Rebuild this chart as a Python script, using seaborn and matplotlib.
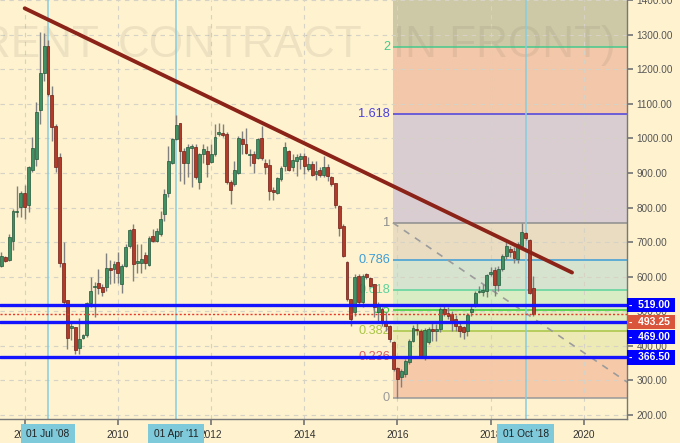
import numpy as np
import pandas as pd
import seaborn as sns
import matplotlib.pyplot as plt
from matplotlib import transforms

# Monthly candles, Jul 2007 .. Dec 2018
first_month = '2007-07'
opens = [632, 656, 647, 702, 786, 801,
         842, 807, 909, 940, 1081, 1190, 1267, 1125, 1036, 947, 640, 533,
         452, 454, 393, 423, 430, 524, 569, 582, 570, 570, 625, 622,
         643, 580, 631, 689, 738, 641, 641, 662, 633, 718, 702, 723,
         782, 843, 928, 999, 1043, 964, 928, 973, 975, 874, 954, 964,
         933, 954, 1012, 1016, 1012, 874, 868, 899, 998, 983, 952, 954,
         942, 1000, 930, 923, 851, 841, 882, 919, 962, 916, 935, 940,
         949, 911, 927, 897, 909, 895, 918, 887, 870, 803, 747, 643,
         535, 497, 603, 526, 607, 595, 578, 497, 506, 473, 456, 410,
         335, 311, 319, 352, 415, 450, 444, 371, 412, 449, 444, 449,
         506, 494, 492, 477, 458, 455, 444, 497, 516, 556, 556, 559,
         608, 619, 577, 622, 660, 680, 675, 650, 689, 726, 706, 566]
highs = [671, 661, 724, 796, 863, 849,
         866, 921, 1005, 1104, 1307, 1306, 1285, 1152, 1041, 957, 700, 533,
         468, 454, 480, 435, 526, 600, 584, 623, 579, 668, 649, 646,
         670, 636, 694, 737, 752, 694, 694, 670, 718, 739, 742, 790,
         853, 978, 1002, 1068, 1045, 973, 983, 983, 983, 959, 983, 978,
         983, 1041, 1045, 1041, 1019, 879, 935, 1007, 1022, 1031, 969, 964,
         1002, 1036, 940, 940, 858, 887, 921, 988, 966, 954, 954, 959,
         959, 945, 935, 935, 916, 949, 925, 892, 872, 808, 752, 644,
         535, 607, 607, 607, 612, 598, 580, 526, 511, 497, 460, 415,
         338, 333, 362, 420, 460, 473, 449, 453, 455, 473, 463, 511,
         516, 511, 502, 490, 473, 458, 494, 516, 559, 574, 579, 609,
         629, 627, 632, 665, 700, 690, 685, 700, 756, 730, 709, 603]
lows = [627, 642, 645, 676, 772, 772,
        767, 786, 904, 919, 1041, 1166, 1122, 993, 902, 627, 521, 391,
        416, 377, 377, 420, 425, 512, 483, 550, 543, 560, 579, 583,
        583, 554, 627, 684, 588, 612, 612, 622, 631, 699, 699, 718,
        761, 829, 925, 994, 877, 867, 887, 858, 882, 853, 930, 887,
        930, 949, 1007, 1004, 869, 809, 863, 896, 954, 954, 921, 901,
        940, 937, 896, 821, 821, 839, 877, 906, 906, 906, 892, 911,
        897, 906, 892, 879, 889, 887, 877, 863, 800, 718, 656, 530,
        458, 487, 521, 511, 593, 569, 482, 468, 458, 444, 410, 328,
        249, 280, 309, 347, 410, 430, 367, 359, 405, 415, 415, 439,
        487, 477, 444, 444, 425, 420, 429, 485, 513, 552, 545, 542,
        603, 545, 559, 617, 650, 656, 640, 640, 685, 705, 550, 487]
closes = [661, 645, 716, 789, 790, 842,
          801, 918, 972, 1075, 1190, 1267, 1127, 1032, 918, 640, 528, 423,
          458, 389, 420, 430, 524, 559, 572, 567, 555, 625, 618, 636,
          612, 631, 687, 735, 638, 646, 651, 641, 711, 702, 732, 766,
          838, 935, 997, 1039, 962, 928, 975, 978, 887, 954, 968, 925,
          954, 1004, 1018, 1009, 874, 850, 908, 1001, 983, 959, 956, 930,
          998, 942, 916, 848, 845, 884, 913, 974, 908, 937, 945, 948,
          921, 925, 895, 906, 895, 918, 890, 868, 807, 742, 659, 535,
          477, 598, 526, 603, 598, 574, 511, 521, 468, 458, 420, 333,
          304, 326, 357, 415, 453, 447, 372, 446, 449, 444, 449, 506,
          492, 487, 473, 458, 444, 439, 490, 507, 552, 559, 561, 605,
          614, 577, 622, 660, 689, 670, 655, 695, 728, 711, 552, 493.25]

# fibonacci tool
fib_ratios = [0, 0.236, 0.382, 0.5, 0.618, 0.786, 1, 1.618, 2, 2.618]
fib_labels = ['0', '0.236', '0.382', '0.5', '0.618', '0.786', '1', '1.618', '2', '2.618']
fib_low, fib_high = 249, 756
fib_start = 2015.9
fib_line_colors = ['#9a9a9a', '#c9485a', '#a9c545', '#36cc36', '#5cd39c', '#3d9dd6',
                   '#8e8e8e', '#4a40dc', '#45c98c', '#cc4444']
fib_text_colors = ['#9a9a9a', '#e45c5c', '#a9c545', '#36cc36', '#5cd39c', '#3d9dd6',
                   '#8e8e8e', '#4a40dc', '#45c98c', '#cc4444']
fib_fills = ['#f6c9a9', '#eeeab5', '#e3ecbb', '#d8edc4', '#d6e3cf', '#e9dcc1',
             '#d9cdd2', '#f3c7a9', '#cdc9a6']

# support / resistance, last price
levels = [519.0, 469.0, 366.5]
last_price = 493.25

# trend line end points
trend_x = [2008.0, 2019.745]
trend_y = [1376, 612]
# dashed diagonal of the fib tool
diag_x = [2015.9, 2020.93]
diag_y = [756, 295]

# vertical date markers
marker_dates = ['2008-07-01', '2011-04-01', '2018-10-01']
marker_labels = ["01 Jul '08", "01 Apr '11", "01 Oct '18"]

bg = '#fef2cf'
sns.set_theme(style='white')
plt.rcParams['font.family'] = ['Liberation Sans', 'DejaVu Sans']

months = pd.date_range(first_month, periods=len(opens), freq='MS')
t = months.year + (months.month - 1) / 12
df = pd.DataFrame({'t': t, 'o': opens, 'h': highs, 'l': lows, 'c': closes})
df['up'] = df['c'] >= df['o']

fig = plt.figure(figsize=(6.8, 4.43), dpi=100)
fig.patch.set_facecolor(bg)
ax = fig.add_axes([0, 24 / 443, 627 / 680, 419 / 443])
ax.set_facecolor(bg)
ax.set_xlim(2007.47, 2020.925)
ax.set_ylim(188.5, 1397)

# fib zones
fib_vals = [fib_low + r * (fib_high - fib_low) for r in fib_ratios]
for i, col in enumerate(fib_fills):
    ax.fill_between([fib_start, 2022], fib_vals[i], fib_vals[i + 1], color=col, lw=0, zorder=0.3)

# grid
ax.set_axisbelow(True)
ax.grid(True, ls=(0, (4, 4)), color='#d6d2c6', lw=0.8)

# watermark
wm = dict(fontsize=31.7, color='#7d7463', alpha=0.13, transform=ax.transAxes,
          va='baseline', zorder=0.6)
wy = (419 - 57) / 419
ax.text(99 / 627, wy, '(BRENT', ha='right', **wm)
ax.text(118 / 627, wy, 'CONTRACT', ha='left', **wm)
ax.text(393 / 627, wy, 'IN FRONT)', ha='left', **wm)

# fib lines + labels
for v, lab, lc, tc in zip(fib_vals, fib_labels, fib_line_colors, fib_text_colors):
    ax.hlines(v, fib_start, 2022, color=lc, lw=1.1, zorder=1.5)
    ax.text(2015.84, v, lab, ha='right', va='center', color=tc, fontsize=9.2, zorder=1.6)

sns.lineplot(x=diag_x, y=diag_y, ax=ax, color='#9c9c9c', lw=1.2, dashes=False,
             linestyle=(0, (4, 4)), zorder=1.7)

# vertical date markers
for d, lab in zip(marker_dates, marker_labels):
    ts = pd.Timestamp(d)
    tv = ts.year + (ts.month - 1) / 12
    ax.axvline(tv, color='#86cde0', lw=1.1, zorder=2.5)
    ax.text(tv, -0.036, lab, transform=ax.get_xaxis_transform(), ha='center', va='center',
            fontsize=7.3, color='#222222', clip_on=False, zorder=10,
            bbox=dict(boxstyle='square,pad=0.55', fc='#7ecadb', ec='none'))

# candles
ax.vlines(df['t'], df['l'], df['h'], color='#808080', lw=1, zorder=3)
body = np.maximum((df['c'] - df['o']).abs(), 3)
bottom = np.minimum(df['o'], df['c'])
ax.bar(df['t'], body, bottom=bottom, width=0.062,
       color=np.where(df['up'], '#3f9063', '#b23a2a'),
       edgecolor=np.where(df['up'], '#24573a', '#6e1f16'), lw=0.5, zorder=4)

# support lines and last price
for v in levels:
    ax.axhline(v, color='#1414ff', lw=2.4, zorder=6)
ax.axhline(last_price, color='#e8392a', lw=1, ls=(0, (1.5, 1.5)), zorder=6)

# trend line
sns.lineplot(x=trend_x, y=trend_y, ax=ax, color='#8c2318', lw=2.8, zorder=7)

# axes styling
for s in ['top', 'left']:
    ax.spines[s].set_visible(False)
for s in ['right', 'bottom']:
    ax.spines[s].set_color('#777777')
    ax.spines[s].set_linewidth(1)
ax.yaxis.tick_right()
yt = list(range(200, 1500, 100))
ax.set_yticks(yt)
ax.set_yticklabels(['%.2f' % v for v in yt])
xt = list(range(2008, 2021, 2))
ax.set_xticks(xt)
ax.set_xticklabels([str(v) for v in xt])
ax.tick_params(axis='y', right=True, length=4, color='#777777', labelcolor='#555555',
               labelsize=7.2, pad=3)
ax.tick_params(axis='x', bottom=True, length=4, color='#777777', labelcolor='#333333',
               labelsize=7.3, pad=4)

# price labels on the right axis
tag_colors = {519.0: '#0000ff', last_price: '#d9553c', 469.0: '#0000ff', 366.5: '#0000ff'}
tag_shift = {519.0: 0, last_price: -8, 469.0: -15, 366.5: 0}
base = transforms.blended_transform_factory(ax.transAxes, ax.transData)
for v in [519.0, last_price, 469.0, 366.5]:
    tr = transforms.offset_copy(base, fig=fig, x=2, y=tag_shift[v], units='dots')
    ax.text(1.0, v, '-  %.2f ' % v, transform=tr, ha='left', va='center', color='white',
            fontsize=7.5, fontweight='bold', clip_on=False, zorder=12,
            bbox=dict(boxstyle='square,pad=0.2', fc=tag_colors[v], ec='none'))

fig.savefig('out.png', dpi=100, facecolor=bg)
